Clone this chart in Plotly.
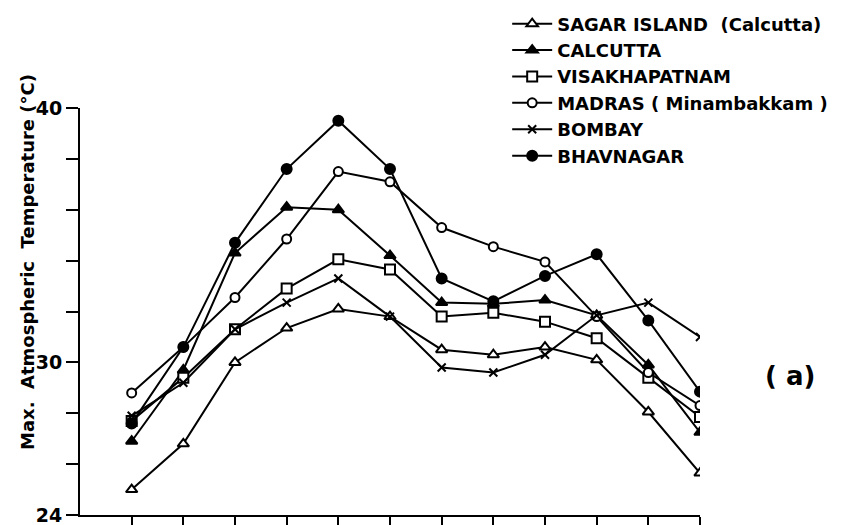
import plotly.graph_objects as go

months = list(range(1, 13))

sagar = [25.0, 26.8, 30.0, 31.35, 32.1, 31.8, 30.5, 30.3, 30.6, 30.1, 28.05, 25.65]
calcutta = [26.9, 29.7, 34.3, 36.1, 36.0, 34.2, 32.35, 32.3, 32.45, 31.85, 29.9, 27.25]
visakhapatnam = [27.7, 29.4, 31.3, 32.9, 34.05, 33.65, 31.8, 31.95, 31.6, 30.95, 29.4, 27.85]
madras = [28.8, 30.6, 32.55, 34.85, 37.5, 37.1, 35.3, 34.55, 33.95, 31.8, 29.6, 28.3]
bombay = [27.9, 29.2, 31.3, 32.35, 33.3, 31.8, 29.8, 29.6, 30.3, 31.85, 32.35, 31.0]
bhavnagar = [27.6, 30.6, 34.7, 37.6, 39.5, 37.6, 33.3, 32.4, 33.4, 34.25, 31.65, 28.85]

series_names = ["SAGAR ISLAND  (Calcutta)", "CALCUTTA", "VISAKHAPATNAM",
                "MADRAS ( Minambakkam )", "BOMBAY", "BHAVNAGAR"]
y_major = [24, 30, 40]
y_minor = [26, 28, 32, 34, 36, 38]

FONT = "DejaVu Sans"

styles = [
    dict(symbol="triangle-up", color="white", size=10),
    dict(symbol="triangle-up", color="black", size=10),
    dict(symbol="square", color="white", size=10),
    dict(symbol="circle", color="white", size=9),
    dict(symbol="x-thin", color="black", size=8),
    dict(symbol="circle", color="black", size=10),
]

fig = go.Figure()
for name, vals, st in zip(series_names,
                          [sagar, calcutta, visakhapatnam, madras, bombay, bhavnagar],
                          styles):
    fig.add_trace(go.Scatter(
        x=months, y=vals, name=name, mode="lines+markers",
        line=dict(color="black", width=2),
        marker=dict(symbol=st["symbol"], size=st["size"], color=st["color"],
                    line=dict(color="black", width=2)),
    ))

# plot area (figure px): left 72, right 692, top 100, bottom 507
fig.update_layout(
    width=844, height=525,
    margin=dict(l=72, r=152, t=100, b=18, autoexpand=False),
    paper_bgcolor="white", plot_bgcolor="white",
    font=dict(family=FONT, color="black", size=16, weight="bold"),
    legend=dict(x=0.689, y=1.252, xanchor="left", yanchor="top",
                font=dict(family=FONT, size=18, weight="bold"),
                tracegroupgap=0, itemwidth=40, bgcolor="rgba(0,0,0,0)"),
    showlegend=True,
)

fig.update_xaxes(range=[0, 12], showline=True, linecolor="black", linewidth=2,
                 tickvals=months, ticktext=[""] * 12, ticks="outside", ticklen=8,
                 tickwidth=2, tickcolor="black", showgrid=False, zeroline=False,
                 automargin=False)
fig.update_yaxes(range=[24, 40], showline=True, linecolor="black", linewidth=2,
                 tickvals=y_major, ticktext=[str(v) for v in y_major],
                 ticks="outside", ticklen=12, tickwidth=2, tickcolor="black",
                 minor=dict(tickvals=y_minor, ticks="outside", ticklen=12,
                            tickwidth=2, tickcolor="black", showgrid=False),
                 tickfont=dict(family=FONT, size=19, weight="bold"),
                 showgrid=False, zeroline=False, automargin=False)

fig.add_annotation(text="Max.  Atmospheric  Temperature (°C)", xref="paper", yref="paper",
                   x=-0.0855, y=0.6216, xanchor="center", yanchor="middle",
                   textangle=-90, showarrow=False,
                   font=dict(family=FONT, size=18, weight="bold"))
fig.add_annotation(text="( a)", xref="paper", yref="paper",
                   x=1.145, y=0.3415, xanchor="center", yanchor="middle",
                   showarrow=False,
                   font=dict(family=FONT, size=26))

fig.write_html("out.html")
